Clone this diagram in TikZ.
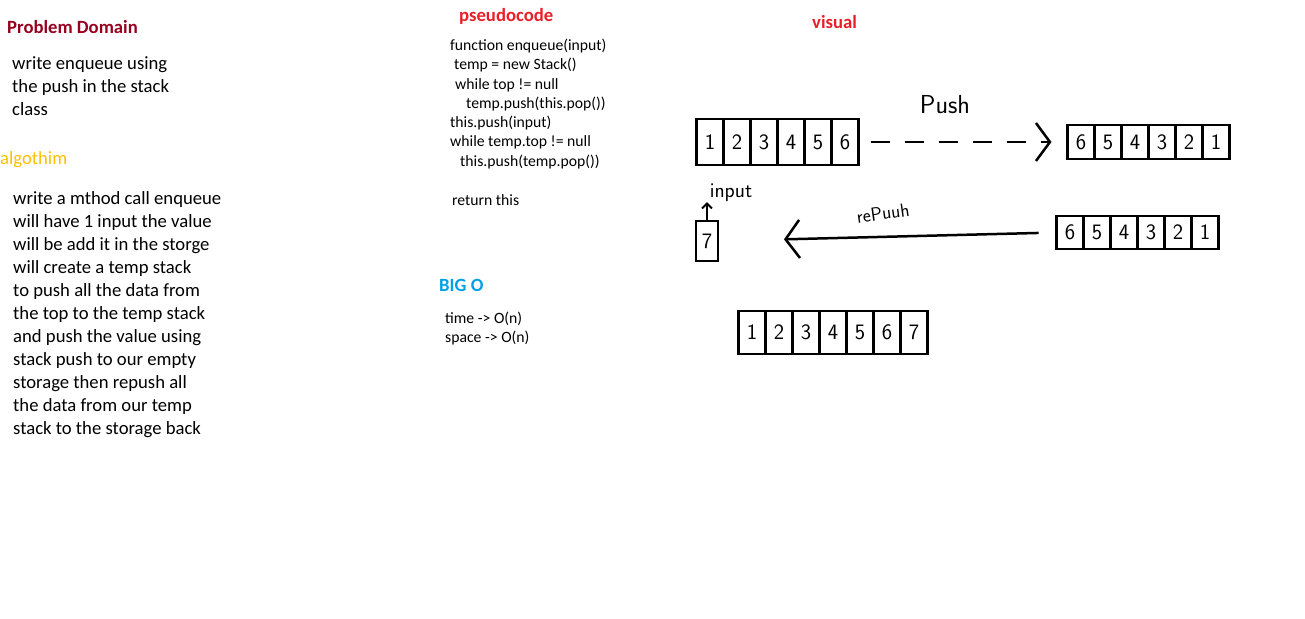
\documentclass[tikz,border=0pt]{standalone}
\usepackage{fontspec}
\setmainfont{Carlito}
\usetikzlibrary{arrows.meta,positioning}

\definecolor{pdred}{RGB}{150,0,30}
\definecolor{algold}{RGB}{255,192,0}
\definecolor{psred}{RGB}{235,30,40}
\definecolor{bigblue}{RGB}{0,160,230}

\tikzset{
  head/.style={anchor=base west, inner sep=0pt, font=\bfseries\fontsize{18.67}{22}\selectfont},
  body/.style={anchor=base west, inner sep=0pt, font=\fontsize{18.67}{22}\selectfont},
  code/.style={anchor=base west, inner sep=0pt, font=\fontsize{15.7}{18}\selectfont},
  cell/.style={draw, line width=2.5pt, outer sep=0pt, inner sep=0pt,
    minimum width=27pt, minimum height=#1, font=\sffamily\fontsize{22}{22}\selectfont},
  hand/.style={inner sep=0pt, font=\sffamily\fontsize{#1}{#1}\selectfont},
  barb/.style={line width=2.5pt, -{Straight Barb[length=14pt,width=38pt,line width=2.5pt]}}
}

\begin{document}
\begin{tikzpicture}[x=1pt,y=-1pt]
\useasboundingbox (0,0) rectangle (1305,618);

% problem domain
\node[head, text=pdred] (pd) at (7,34) {Problem Domain};
\foreach \t [count=\i] in {write enqueue using, the push in the stack, class}
  \node[body] (pd\i) at (12,{69+23*(\i-1)}) {\t};

% algorithm
\node[body, text=algold] (alg) at (0,164) {algothim};
\foreach \t [count=\i] in {write a mthod call enqueue, will have 1 input the value,
    will be add it in the storge, will create a temp stack, to push all the data from,
    the top to the temp stack, and push the value using, stack push to our empty,
    storage then repush all, the data from our temp, stack to the storage back}
  \node[body] (alg\i) at (13,{204+23*(\i-1)}) {\t};

% pseudocode
\node[head, text=psred] (ps) at (459,22) {pseudocode};
\node[code] (ps1) at (450,51) {function enqueue(input)};
\node[code] (ps2) at (454,70) {temp = new Stack()};
\node[code] (ps3) at (455,89) {while top != null};
\node[code] (ps4) at (466,108) {temp.push(this.pop())};
\node[code] (ps5) at (450,127) {this.push(input)};
\node[code] (ps6) at (450,146) {while temp.top != null};
\node[code] (ps7) at (460,166) {this.push(temp.pop())};
\node[code] (ps8) at (452,205) {return this};

% big o
\node[head, text=bigblue] (bo) at (439,291) {BIG O};
\node[code] (bo1) at (445,323) {time -> O(n)};
\node[code] (bo2) at (445,342) {space -> O(n)};

% visual
\node[head, text=psred] (vis) at (812,29) {visual};

% stack before
\node[cell=46pt] (a1) at (710,142) {1};
\foreach \d [count=\i from 2] in {2,...,6} {
  \pgfmathtruncatemacro\prev{\i-1}
  \node[cell=46pt, right=0pt of a\prev] (a\i) {\d};
}

% temp stack
\node[cell=34pt] (b1) at (1081,142) {6};
\foreach \d [count=\i from 2] in {5,4,3,2,1} {
  \pgfmathtruncatemacro\prev{\i-1}
  \node[cell=34pt, right=0pt of b\prev] (b\i) {\d};
}

% temp stack again
\node[cell=33pt] (c1) at (1070,232.5) {6};
\foreach \d [count=\i from 2] in {5,4,3,2,1} {
  \pgfmathtruncatemacro\prev{\i-1}
  \node[cell=33pt, right=0pt of c\prev] (c\i) {\d};
}

% input
\node[cell=40pt, minimum width=22pt] (seven) at (707,241) {7};
\node[hand=21] (inp) at (731,193) {input};

% stack after
\node[cell=43pt] (d1) at (752,332.5) {1};
\foreach \d [count=\i from 2] in {2,...,7} {
  \pgfmathtruncatemacro\prev{\i-1}
  \node[cell=43pt, right=0pt of d\prev] (d\i) {\d};
}

% arrows
\draw[barb, dash pattern=on 19pt off 15pt, shorten <=12pt, shorten >=16pt] (a6.east) -- (b1.west);
\node[hand=26] (pushlbl) at (945,105) {Push};
\draw[barb, shorten <=18pt, shorten >=66pt] (c1.west) -- (seven.east);
\node[hand=19, rotate=8] (repush) at (883,213) {rePuuh};
\draw[line width=2pt, -{Straight Barb[length=5pt,width=10pt,line width=2pt]}] (seven.north) -- (seven.north |- inp.south);

\end{tikzpicture}
\end{document}
